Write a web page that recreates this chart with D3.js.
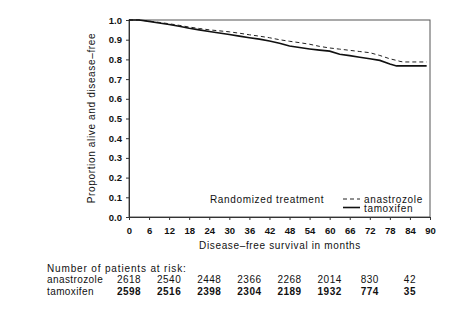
<!DOCTYPE html>
<html><head><meta charset="utf-8">
<script src="https://cdn.jsdelivr.net/npm/d3@7"></script>
<style>
html,body{margin:0;padding:0;background:#fff;}
text{font-family:"Liberation Sans",Arial,sans-serif;fill:#111;}
</style></head>
<body><svg id="c" width="474" height="330"></svg>
<script>
const months = [0,3,6,9,12,15,18,21,24,27,30,33,36,39,42,45,48,51,54,57,60,63,66,69,72,75,78,80,81,82,89];
const anastrozole = [1.0,1.0,0.994,0.988,0.981,0.973,0.964,0.957,0.950,0.945,0.940,0.933,0.925,0.918,0.910,0.900,0.892,0.885,0.877,0.866,0.858,0.852,0.846,0.840,0.834,0.820,0.803,0.795,0.790,0.787,0.787];
const tamoxifen  = [1.0,1.0,0.993,0.985,0.977,0.968,0.958,0.950,0.942,0.934,0.926,0.918,0.910,0.903,0.893,0.882,0.868,0.860,0.853,0.847,0.842,0.826,0.819,0.811,0.803,0.795,0.777,0.767,0.767,0.767,0.767];
const xTicks = [0,6,12,18,24,30,36,42,48,54,60,66,72,78,84,90];
const yTicks = [0,0.1,0.2,0.3,0.4,0.5,0.6,0.7,0.8,0.9,1.0];
const riskTimes = [0,12,24,36,48,60,72,84];
const riskAnastrozole = [2618,2540,2448,2366,2268,2014,830,42];
const riskTamoxifen = [2598,2516,2398,2304,2189,1932,774,35];

const svg = d3.select("#c");
const x = d3.scaleLinear().domain([0,90]).range([129,430]);
const y = d3.scaleLinear().domain([0,1]).range([217,20]);

svg.append("rect").attr("x",x(0)).attr("y",y(1)).attr("width",x(90)-x(0)).attr("height",y(0)-y(1))
  .attr("fill","none").attr("stroke","#555").attr("stroke-width",1);

const xAxis = svg.append("g").attr("transform",`translate(0,${y(0)})`)
  .call(d3.axisBottom(x).tickValues(xTicks).tickSize(3).tickPadding(7).tickFormat(d3.format("d")));
const yAxis = svg.append("g").attr("transform",`translate(${x(0)},0)`)
  .call(d3.axisLeft(y).tickValues(yTicks).tickSize(3).tickPadding(4).tickFormat(d3.format(".1f")));
[xAxis,yAxis].forEach(g=>{
  g.select(".domain").attr("stroke","#333");
  g.selectAll(".tick line").attr("stroke","#333");
  g.selectAll("text").attr("font-family","Liberation Sans, Arial, sans-serif").attr("font-size",9.5).attr("font-weight","bold").attr("fill","#111");
});

const line = d3.line().x((d,i)=>x(months[i])).y(d=>y(d));
svg.append("path").datum(anastrozole).attr("d",line).attr("fill","none").attr("stroke","#222").attr("stroke-width",1).attr("stroke-dasharray","4,3");
svg.append("path").datum(tamoxifen).attr("d",line).attr("fill","none").attr("stroke","#111").attr("stroke-width",1.6);

const LS = 0.65;
svg.append("text").attr("x",280).attr("y",249).attr("text-anchor","middle").attr("font-size",10).attr("letter-spacing",LS).text("Disease–free survival in months");
svg.append("text").attr("transform","translate(95,118) rotate(-90)").attr("text-anchor","middle").attr("font-size",10).attr("letter-spacing",LS).text("Proportion alive and disease–free");

svg.append("text").attr("x",210).attr("y",202.5).attr("font-size",10).attr("letter-spacing",LS).text("Randomized treatment");
svg.append("line").attr("x1",343).attr("x2",360).attr("y1",199).attr("y2",199).attr("stroke","#222").attr("stroke-dasharray","4,3");
svg.append("line").attr("x1",343).attr("x2",360).attr("y1",207.5).attr("y2",207.5).attr("stroke","#111").attr("stroke-width",1.6);
svg.append("text").attr("x",364).attr("y",202.5).attr("font-size",10).attr("letter-spacing",LS).text("anastrozole");
svg.append("text").attr("x",364).attr("y",212).attr("font-size",10).attr("letter-spacing",LS).text("tamoxifen");

svg.append("text").attr("x",47).attr("y",271.5).attr("font-size",10).attr("letter-spacing",0.85).text("Number of patients at risk:");
svg.append("text").attr("x",47).attr("y",282.5).attr("font-size",10).attr("letter-spacing",0.4).text("anastrozole");
svg.append("text").attr("x",47).attr("y",295).attr("font-size",10).attr("letter-spacing",0.4).text("tamoxifen");
svg.append("g").selectAll("text").data(riskAnastrozole).join("text")
  .attr("x",(d,i)=>x(riskTimes[i])).attr("y",282.5).attr("text-anchor","middle").attr("font-size",10).attr("letter-spacing",0.5).text(d=>d);
svg.append("g").selectAll("text").data(riskTamoxifen).join("text")
  .attr("x",(d,i)=>x(riskTimes[i])).attr("y",295).attr("text-anchor","middle").attr("font-size",10).attr("letter-spacing",0.5).attr("font-weight","bold").text(d=>d);
</script></body></html>
